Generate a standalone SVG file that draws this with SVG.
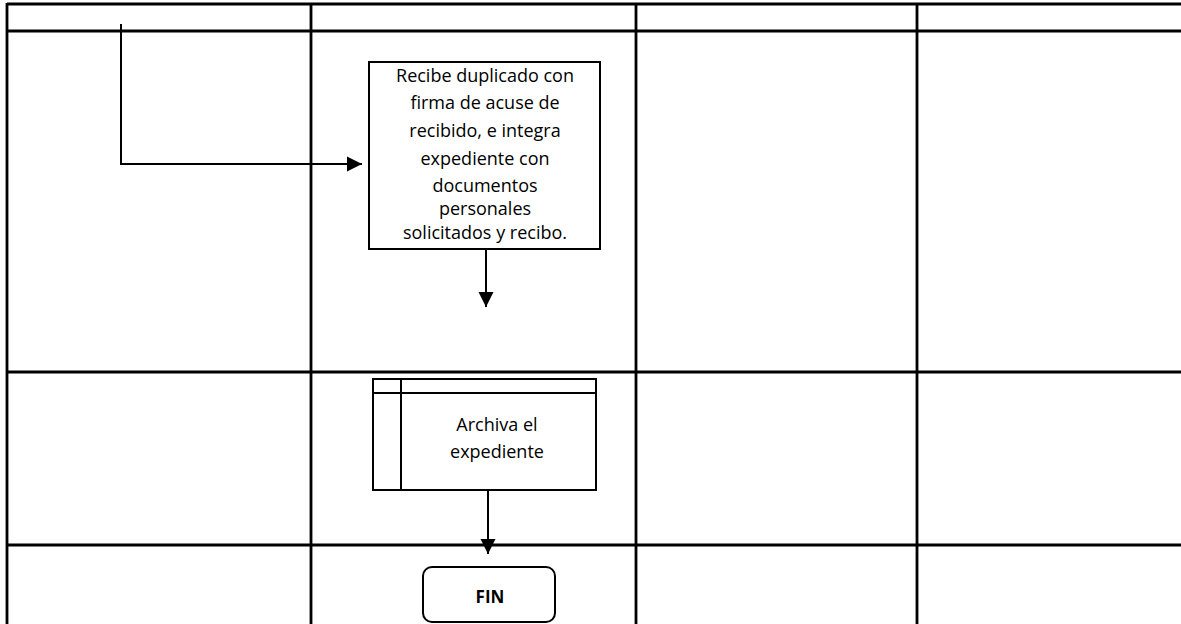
<svg xmlns="http://www.w3.org/2000/svg" width="1181" height="624" viewBox="0 0 1181 624">
  <style>
    .grid { stroke: #000; stroke-width: 2.8; fill: none; }
    .box { stroke: #000; stroke-width: 2; fill: #fff; }
    .conn { stroke: #000; stroke-width: 2; fill: none; }
    .lbl { font-family: "Open Sans", "Liberation Sans", sans-serif; font-size: 18px; fill: #000; text-anchor: middle; }
    .bold { font-weight: bold; font-size: 17px; }
  </style>
  <defs>
    <marker id="arrow" markerUnits="userSpaceOnUse" markerWidth="16" markerHeight="16" viewBox="0 0 16 16" refX="15" refY="8" orient="auto">
      <path d="M0,0.5 L15,8 L0,15.5 Z" fill="#000"/>
    </marker>
  </defs>

  <rect width="1181" height="624" fill="#fff"/>

  <!-- swimlane table -->
  <g id="lanes" class="grid">
    <line x1="7" y1="4" x2="1181" y2="4"/>
    <line x1="7" y1="31" x2="1181" y2="31"/>
    <line x1="7" y1="372" x2="1181" y2="372"/>
    <line x1="7" y1="545" x2="1181" y2="545"/>
    <line x1="7" y1="3" x2="7" y2="624"/>
    <line x1="311" y1="3" x2="311" y2="624"/>
    <line x1="636" y1="3" x2="636" y2="624"/>
    <line x1="917" y1="3" x2="917" y2="624"/>
  </g>

  <!-- connectors -->
  <g id="connectors" class="conn">
    <polyline points="121,24 121,164 362,164" marker-end="url(#arrow)"/>
    <line x1="486" y1="249" x2="486" y2="307" marker-end="url(#arrow)"/>
    <line x1="488" y1="490" x2="488" y2="554" marker-end="url(#arrow)"/>
  </g>

  <!-- process: receive duplicate -->
  <g id="recibe">
    <rect class="box" x="369" y="62" width="231" height="187"/>
    <text class="lbl" x="485" y="82">Recibe duplicado con</text>
    <text class="lbl" x="485" y="109">firma de acuse de</text>
    <text class="lbl" x="485" y="137">recibido, e integra</text>
    <text class="lbl" x="485" y="165">expediente con</text>
    <text class="lbl" x="485" y="192">documentos</text>
    <text class="lbl" x="485" y="215">personales</text>
    <text class="lbl" x="485" y="239">solicitados y recibo.</text>
  </g>

  <!-- internal storage: archive -->
  <g id="archiva">
    <rect class="box" x="373" y="379" width="223" height="111"/>
    <line class="conn" x1="373" y1="393" x2="596" y2="393"/>
    <line class="conn" x1="401" y1="379" x2="401" y2="490"/>
    <text class="lbl" x="497" y="431">Archiva el</text>
    <text class="lbl" x="497" y="458">expediente</text>
  </g>

  <!-- terminator -->
  <g id="fin">
    <rect class="box" x="423" y="567" width="132" height="55" rx="9" ry="9"/>
    <text class="lbl bold" x="490" y="603">FIN</text>
  </g>
</svg>
